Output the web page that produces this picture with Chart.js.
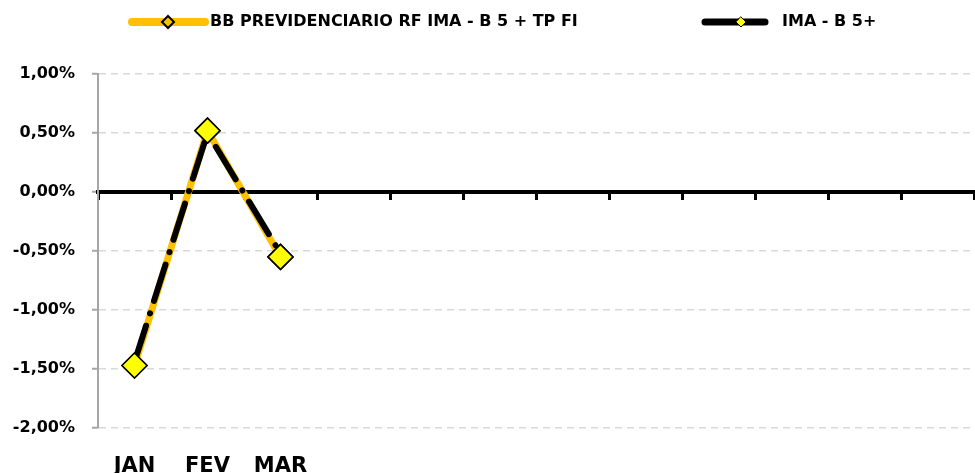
<!DOCTYPE html>
<html>
<head>
<meta charset="utf-8">
<script src="https://cdn.jsdelivr.net/npm/chart.js@4.4.1/dist/chart.umd.min.js"></script>
<style>
    html, body { margin: 0; padding: 0; background: #fff; overflow: hidden; }
    canvas { display: block; }
</style>
</head>
<body>
<canvas id="chart" width="975" height="473"></canvas>
<script>
// Chart data (monthly return, %)
const months = ['JAN', 'FEV', 'MAR', 'ABR', 'MAI', 'JUN', 'JUL', 'AGO', 'SET', 'OUT', 'NOV', 'DEZ'];
const fundLabel = 'BB PREVIDENCIARIO RF IMA - B 5 + TP FI';
const indexLabel = 'IMA - B 5+';
const fundValues = [-1.47, 0.52, -0.55];
const indexValues = [-1.44, 0.50, -0.52];
const yTicks = [-2, -1.5, -1, -0.5, 0, 0.5, 1];

const FONT = '"DejaVu Sans"';
const ORANGE = '#FFC000';
const YELLOW = '#FFFF00';

function fmt(v) {
    return v.toFixed(2).replace('.', ',') + '%';
}

// Legend drawn at the top (line sample + marker)
const legendPlugin = {
    id: 'topLegend',
    afterDraw(chart) {
        const ctx = chart.ctx;
        const y = 22;
        const items = [
            { x1: 132, x2: 205, mx: 168, color: ORANGE, width: 8, fill: ORANGE, r: 6, stroke: 2, tx: 210, text: fundLabel },
            { x1: 705, x2: 765, mx: 741, color: '#000', width: 7, fill: YELLOW, r: 5, stroke: 1, tx: 782, text: indexLabel }
        ];
        ctx.save();
        items.forEach(it => {
            ctx.beginPath();
            ctx.lineCap = 'round';
            ctx.strokeStyle = it.color;
            ctx.lineWidth = it.width;
            ctx.moveTo(it.x1, y);
            ctx.lineTo(it.x2, y);
            ctx.stroke();

            ctx.beginPath();
            ctx.moveTo(it.mx, y - it.r);
            ctx.lineTo(it.mx + it.r, y);
            ctx.lineTo(it.mx, y + it.r);
            ctx.lineTo(it.mx - it.r, y);
            ctx.closePath();
            ctx.fillStyle = it.fill;
            ctx.fill();
            ctx.lineWidth = it.stroke;
            ctx.strokeStyle = '#000';
            ctx.stroke();

            ctx.fillStyle = '#000';
            ctx.font = 'bold 16px ' + FONT;
            ctx.textAlign = 'left';
            ctx.textBaseline = 'middle';
            ctx.fillText(it.text, it.tx, y);
        });
        ctx.restore();
    }
};

// Fund markers sit on top of both lines
const markersOnTop = {
    id: 'markersOnTop',
    afterDatasetsDraw(chart) {
        const meta = chart.getDatasetMeta(0);
        meta.data.forEach(p => p.draw(chart.ctx, chart.chartArea));
    }
};

const ctx = document.getElementById('chart').getContext('2d');
new Chart(ctx, {
    type: 'line',
    data: {
        labels: months,
        datasets: [{
            label: fundLabel,
            data: fundValues,
            borderColor: ORANGE,
            borderWidth: 7,
            pointStyle: 'rectRot',
            pointRadius: 12.5,
            pointBackgroundColor: YELLOW,
            pointBorderColor: '#000',
            pointBorderWidth: 1.5,
            order: 2
        }, {
            label: indexLabel,
            data: indexValues,
            borderColor: '#000',
            borderWidth: 6,
            borderDash: [38, 13, 0.1, 13],
            borderCapStyle: 'round',
            pointStyle: 'rectRot',
            pointRadius: 5,
            pointBackgroundColor: YELLOW,
            pointBorderColor: '#000',
            pointBorderWidth: 1,
            order: 1
        }]
    },
    options: {
        responsive: false,
        animation: false,
        layout: {
            autoPadding: false,
            padding: { top: 74, right: 1, bottom: 0, left: 0 }
        },
        plugins: {
            legend: { display: false },
            tooltip: { enabled: false }
        },
        scales: {
            x: {
                offset: true,
                grid: { display: false },
                border: { display: false },
                ticks: {
                    autoSkip: false,
                    maxRotation: 0,
                    padding: 18,
                    color: '#000',
                    font: { family: FONT, size: 21, weight: 'bold' },
                    callback: function(v, i) {
                        return i < fundValues.length ? months[i] : '';
                    }
                },
                afterFit: s => { s.height = 45; }
            },
            x2: {
                type: 'category',
                labels: months,
                position: { y: 0 },
                offset: true,
                grid: {
                    offset: true,
                    drawOnChartArea: false,
                    tickLength: 6,
                    tickWidth: 3,
                    tickColor: '#000'
                },
                border: { color: '#000', width: 4 },
                ticks: { display: false }
            },
            y: {
                min: -2,
                max: 1,
                afterBuildTicks: s => { s.ticks = yTicks.map(v => ({ value: v })); },
                afterFit: s => { s.width = 98; },
                border: { color: '#A6A6A6', width: 2, dash: [7, 5] },
                grid: {
                    color: ctx => ctx.tick && ctx.tick.value === 0 ? '#000' : '#D9D9D9',
                    lineWidth: 1.5,
                    tickLength: 6,
                    tickColor: '#A6A6A6',
                    tickBorderDash: [],
                    tickWidth: 2
                },
                ticks: {
                    padding: 17,
                    color: '#000',
                    font: { family: FONT, size: 16, weight: 'bold' },
                    callback: v => fmt(v)
                }
            }
        }
    },
    plugins: [legendPlugin, markersOnTop]
});
</script>
</body>
</html>
